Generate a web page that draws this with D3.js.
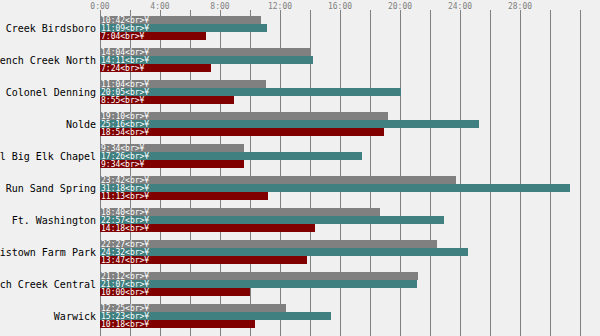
<!DOCTYPE html>
<html><head><meta charset="utf-8">
<script src="https://cdn.jsdelivr.net/npm/d3@7"></script>
<style>body{margin:0;background:#f0f0f0;}svg{display:block;}</style>
</head><body><svg id="c" width="600" height="336"></svg>
<script>
const categories = ["Hay Creek Birdsboro","French Creek North","Colonel Denning","Nolde","Hill Big Elk Chapel","Mill Run Sand Spring","Ft. Washington","Norristown Farm Park","French Creek Central","Warwick"];
const seriesA = ["10:42","14:04","11:04","19:10","9:34","23:42","18:40","22:27","21:12","12:25"];
const seriesB = ["11:09","14:11","20:05","25:16","17:26","31:18","22:57","24:32","21:07","15:23"];
const seriesC = ["7:04","7:24","8:55","18:54","9:34","11:13","14:18","13:47","10:00","10:18"];
const seriesColors = ["#808080","#408080","#800000"];
const tickLabels = ["0:00","4:00","8:00","12:00","16:00","20:00","24:00","28:00"];
const labelSuffix = "<br>¥";

const toH = s => { const [h,m] = s.split(":").map(Number); return h + m/60; };
const series = [seriesA, seriesB, seriesC];

const svg = d3.select("#c");
const x = d3.scaleLinear().domain([0, 100/3]).range([100, 600]);
const y = d3.scaleBand().domain(categories).range([12, 332]).paddingInner(0.25).paddingOuter(0.125);
const sub = d3.scaleBand().domain([0,1,2]).range([0, y.bandwidth()]);

// grid lines every 2h
svg.append("g").selectAll("line").data(d3.range(0, 33, 2)).join("line")
  .attr("x1", d => x(d)).attr("x2", d => x(d)).attr("y1", 10).attr("y2", 336)
  .attr("stroke", "#808080").attr("stroke-width", 1).attr("shape-rendering","crispEdges");

svg.append("g").selectAll("text").data(tickLabels).join("text")
  .attr("x", d => x(toH(d))).attr("y", 9).attr("text-anchor","middle")
  .attr("font-family","DejaVu Sans Mono").attr("font-size", 8).attr("fill","#808080")
  .text(d => d);

const groups = svg.append("g").selectAll("g").data(categories).join("g")
  .attr("transform", d => `translate(0,${y(d)})`);

groups.each(function(cat, i){
  const g = d3.select(this);
  series.forEach((s, j) => {
    g.append("rect").attr("x", x(0)).attr("y", sub(j))
      .attr("width", x(toH(s[i])) - x(0)).attr("height", sub.bandwidth())
      .attr("fill", seriesColors[j]).attr("shape-rendering","crispEdges");
    g.append("text").attr("x", x(0) + 1).attr("y", sub(j) + sub.bandwidth()/2)
      .attr("dy","0.35em").attr("font-family","DejaVu Sans Mono").attr("font-size", 8)
      .attr("fill","#ffffff").text(s[i] + labelSuffix);
  });
  g.append("text").attr("x", 96).attr("y", y.bandwidth()/2).attr("dy","0.35em")
    .attr("text-anchor","end").attr("font-family","DejaVu Sans Mono").attr("font-size", 10)
    .attr("fill","#000").text(cat);
});
</script></body></html>
